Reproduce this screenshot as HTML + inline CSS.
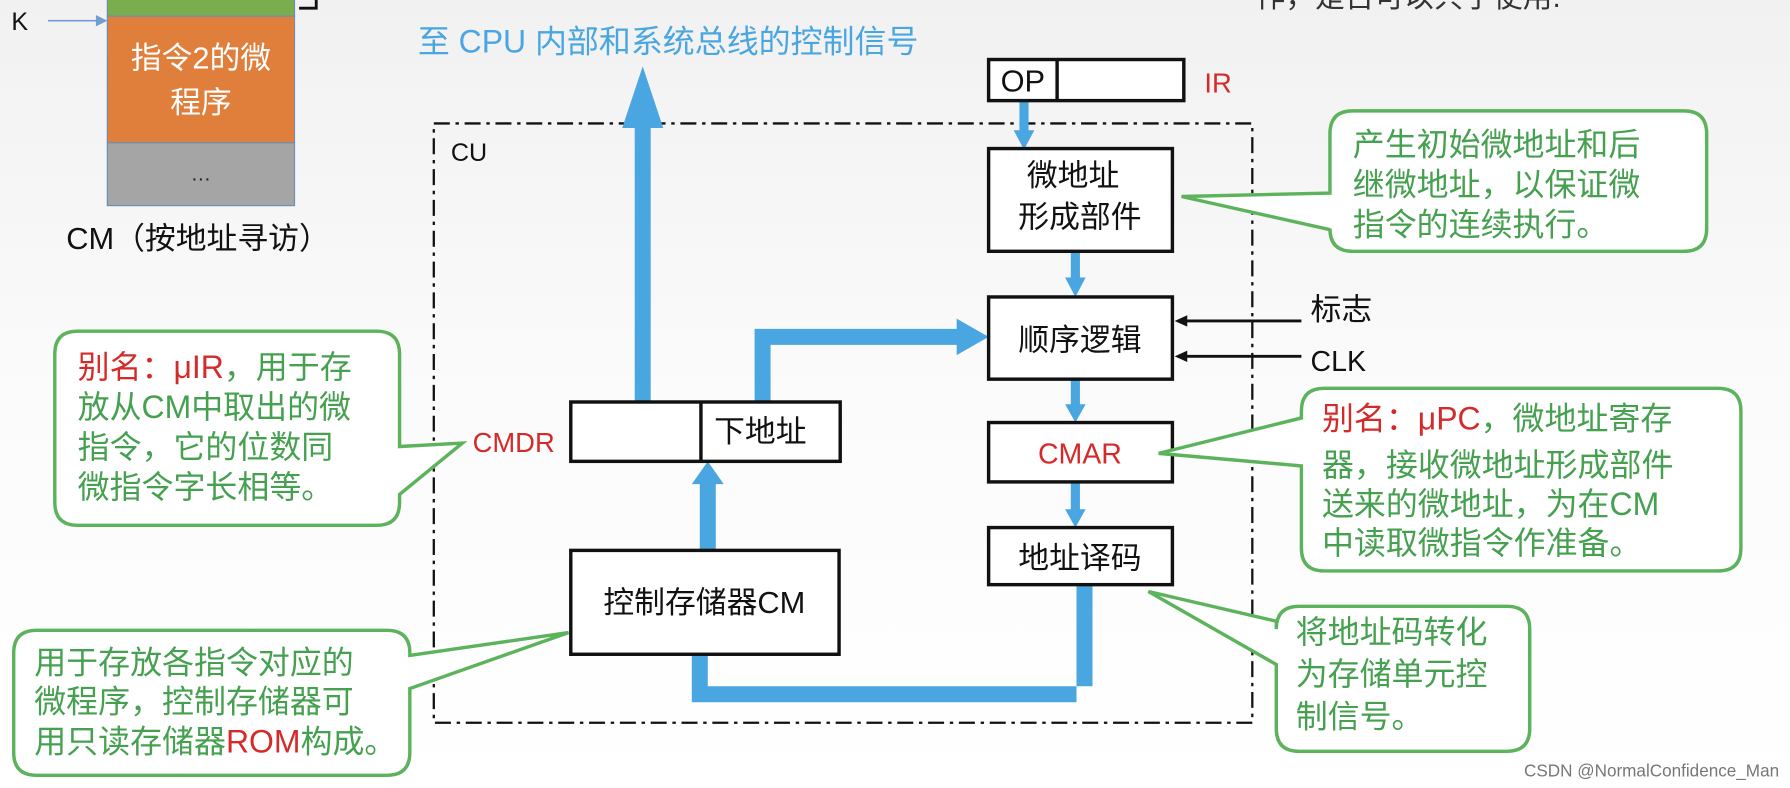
<!DOCTYPE html>
<html><head><meta charset="utf-8"><style>
html,body{margin:0;padding:0;background:#fff;}
svg{display:block;}
text{font-family:"Liberation Sans","Noto Sans CJK SC",sans-serif;}
.g{fill:#45a04f;font-size:28px;}
.r{fill:#d42a2a;}
.b{fill:#111;font-size:27px;}
.co{fill:#fff;stroke:#5cb35c;stroke-width:3;}
</style></head><body>
<svg width="1790" height="788" viewBox="0 0 1568 690" xmlns="http://www.w3.org/2000/svg">
<defs><linearGradient id="bg" x1="0" y1="0" x2="0" y2="1"><stop offset="0" stop-color="#f1f1f1"/><stop offset="0.5" stop-color="#fbfbfb"/><stop offset="1" stop-color="#ffffff"/></linearGradient></defs>
<rect width="1568" height="690" fill="url(#bg)"/>
<text x="1100" y="6" font-size="26" fill="#333">作，是否可以共子使用.</text>

<!-- CM column -->
<rect x="94" y="-2" width="164" height="16" fill="#79ad4e" stroke="#6a8fb0"/>
<rect x="94" y="14" width="164" height="111" fill="#e07f3c" stroke="#6a8fb0"/>
<rect x="94" y="125" width="164" height="55" fill="#a5a5a5" stroke="#6a8fb0"/>
<text x="176" y="60" font-size="27" fill="#fff" text-anchor="middle">指令2的微</text>
<text x="176" y="99" font-size="27" fill="#fff" text-anchor="middle">程序</text>
<text x="176" y="158" font-size="18" fill="#222" text-anchor="middle">…</text>
<path d="M262 7 H277 V-2" fill="none" stroke="#111" stroke-width="2.5"/>
<text x="10" y="26" font-size="22" fill="#111">K</text>
<line x1="42" y1="18" x2="86" y2="18" stroke="#6f9fd0" stroke-width="1.5"/>
<polygon points="94,18 84,13 84,23" fill="#6f9fd0"/>
<text x="58" y="218" font-size="27" fill="#111">CM（按地址寻访）</text>

<text x="366" y="46" font-size="28" fill="#4aa6e0">至 CPU 内部和系统总线的控制信号</text>

<!-- CU box -->
<rect x="380" y="108" width="717" height="525" fill="none" stroke="#111" stroke-width="2" stroke-dasharray="14,5,3,5"/>
<text x="395" y="141" font-size="22" fill="#111">CU</text>

<!-- Blue thick arrows -->
<g fill="#4aa6e0">
<rect x="556" y="110" width="14" height="243"/>
<polygon points="563,58 545,112 581,112"/>
<path d="M661 352 V288 H840 V302 H675 V352 Z"/>
<polygon points="866,295 838,279 838,311"/>
<path d="M943 512 V615 H606 V532 H620 V601 H957 V512 Z"/>
<polygon points="613,518 601,534 625,534"/>
<rect x="613" y="420" width="14" height="62"/>
<polygon points="620,404 606,424 634,424"/>
<rect x="893" y="88" width="8" height="28"/><polygon points="897,131 888,114 906,114"/>
<rect x="938" y="220" width="8" height="26"/><polygon points="942,260 933,243 951,243"/>
<rect x="938" y="332" width="8" height="26"/><polygon points="942,370 933,354 951,354"/>
<rect x="938" y="422" width="8" height="26"/><polygon points="942,462 933,446 951,446"/>
</g>

<!-- Boxes -->
<g fill="#fff" stroke="#111" stroke-width="3">
<rect x="866" y="52" width="171" height="36"/>
<line x1="926" y1="52" x2="926" y2="88"/>
<rect x="866" y="130" width="161" height="90"/>
<rect x="866" y="260" width="161" height="72"/>
<rect x="866" y="370" width="161" height="52"/>
<rect x="866" y="462" width="161" height="50"/>
<rect x="500" y="352" width="236" height="52"/>
<line x1="614" y1="352" x2="614" y2="404"/>
<rect x="500" y="482" width="235" height="91"/>
</g>
<text x="896" y="80" class="b" text-anchor="middle">OP</text>
<text x="1055" y="81" font-size="24" class="r">IR</text>
<text x="940" y="163" class="b" text-anchor="middle">微地址</text>
<text x="946" y="199" class="b" text-anchor="middle">形成部件</text>
<text x="946" y="307" class="b" text-anchor="middle">顺序逻辑</text>
<text x="946" y="406" font-size="25" class="r" text-anchor="middle">CMAR</text>
<text x="946" y="498" class="b" text-anchor="middle">地址译码</text>
<text x="666" y="387" class="b" text-anchor="middle">下地址</text>
<text x="617" y="537" class="b" text-anchor="middle">控制存储器CM</text>
<text x="414" y="396" font-size="24" class="r">CMDR</text>

<!-- signal lines -->
<line x1="1140" y1="281" x2="1036" y2="281" stroke="#111" stroke-width="2.5"/>
<polygon points="1029,281 1040,276 1040,286" fill="#111"/>
<line x1="1140" y1="312" x2="1036" y2="312" stroke="#111" stroke-width="2.5"/>
<polygon points="1029,312 1040,307 1040,317" fill="#111"/>
<text x="1148" y="280" class="b">标志</text>
<text x="1148" y="325" font-size="25" fill="#111">CLK</text>

<!-- Callouts -->
<path class="co" d="M1185 97 H1475 Q1495 97 1495 117 V200 Q1495 220 1475 220 H1185 Q1165 220 1165 200 V201 L1035 172 L1165 169 V117 Q1165 97 1185 97 Z"/>
<text class="g" x="1185" y="136">产生初始微地址和后</text>
<text class="g" x="1185" y="171">继微地址，以保证微</text>
<text class="g" x="1185" y="206">指令的连续执行。</text>

<path class="co" d="M68 290 H330 Q350 290 350 310 V391 L405 388 L350 433 V440 Q350 460 330 460 H68 Q48 460 48 440 V310 Q48 290 68 290 Z"/>
<text class="g" x="68" y="331"><tspan class="r">别名：μIR</tspan>，用于存</text>
<text class="g" x="68" y="366">放从CM中取出的微</text>
<text class="g" x="68" y="401">指令，它的位数同</text>
<text class="g" x="68" y="436">微指令字长相等。</text>

<path class="co" d="M1160 340 H1505 Q1525 340 1525 360 V480 Q1525 500 1505 500 H1160 Q1140 500 1140 480 V408 L1015 397 L1140 366 V360 Q1140 340 1160 340 Z"/>
<text class="g" x="1158" y="376"><tspan class="r">别名：μPC</tspan>，微地址寄存</text>
<text class="g" x="1158" y="417">器，接收微地址形成部件</text>
<text class="g" x="1158" y="451">送来的微地址，为在CM</text>
<text class="g" x="1158" y="485">中读取微指令作准备。</text>

<path class="co" d="M1138 531 H1320 Q1340 531 1340 551 V638 Q1340 658 1320 658 H1138 Q1118 658 1118 638 V582 L1006 518 L1118 544 V551 Q1118 531 1138 531 Z"/>
<text class="g" x="1135" y="563">将地址码转化</text>
<text class="g" x="1135" y="600">为存储单元控</text>
<text class="g" x="1135" y="637">制信号。</text>

<path class="co" d="M32 552 H339 Q359 552 359 572 V574 L498 554 L359 603 V659 Q359 679 339 679 H32 Q12 679 12 659 V572 Q12 552 32 552 Z"/>
<text class="g" x="30" y="590">用于存放各指令对应的</text>
<text class="g" x="30" y="624">微程序，控制存储器可</text>
<text class="g" x="30" y="659">用只读存储器<tspan class="r">ROM</tspan>构成。</text>

<text x="1335" y="680" font-size="15" fill="#777">CSDN @NormalConfidence_Man</text>
</svg>
</body></html>
